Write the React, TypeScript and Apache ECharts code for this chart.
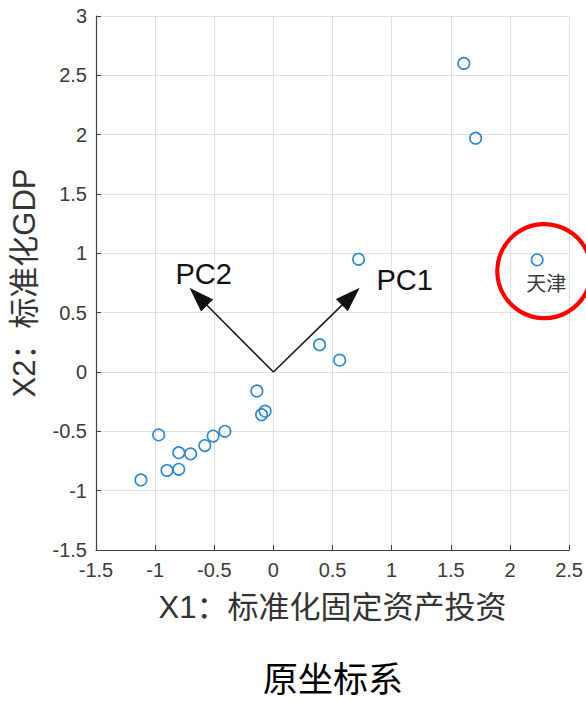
import React, { useEffect, useRef } from "react";
import * as echarts from "echarts";

// Standardized values (X1: fixed-asset investment, X2: GDP)
const provinceX = [-1.12, -0.97, -0.9, -0.8, -0.8, -0.7, -0.58, -0.51, -0.41, -0.14, -0.1, -0.07, 0.39, 0.56, 0.72, 1.61, 1.71];
const provinceY = [-0.91, -0.53, -0.83, -0.82, -0.68, -0.69, -0.62, -0.54, -0.5, -0.16, -0.36, -0.33, 0.23, 0.1, 0.95, 2.6, 1.97];

// Highlighted outlier
const tianjinName = "天津";
const tianjinPoint = [2.23, 0.945];
const highlightCenter = [2.29, 0.85];

// Principal-component arrows
const pcNames = ["PC1", "PC2"];
const pcTipX = [0.73, -0.71];
const pcTipY = [0.71, 0.71];
const pcLabelX = [1.11, -0.59];
const pcLabelY = [0.775, 0.83];

const xTickMin = -1.5;
const xTickMax = 2.5;
const yTickMin = -1.5;
const yTickMax = 3;
const tickStep = 0.5;

const xName = "X1：标准化固定资产投资";
const yName = "X2：标准化GDP";
const titleText = "原坐标系";

const LATIN = "'Liberation Sans', Arial, 'Noto Sans CJK SC', sans-serif";
const CJK = "'Noto Sans CJK SC', 'Liberation Sans', sans-serif";

export default function App() {
  const ref = useRef<HTMLDivElement>(null);

  useEffect(() => {
    if (!ref.current) return;
    const chart = echarts.init(ref.current, undefined, { renderer: "svg" });

    const scatterData = provinceX.map((x, i) => [x, provinceY[i]]);
    const arrowData = pcNames.map((_, i) => [pcTipX[i], pcTipY[i], pcLabelX[i], pcLabelY[i]]);

    const option: any = {
      animation: false,
      backgroundColor: "#ffffff",
      grid: { left: 96, right: 16, top: 16, bottom: 151, containLabel: false },
      xAxis: {
        type: "value",
        min: xTickMin,
        max: xTickMax,
        interval: tickStep,
        name: xName,
        nameLocation: "middle",
        nameGap: 42,
        nameTextStyle: { fontSize: 31, color: "#333", fontFamily: LATIN },
        axisLine: { show: true, onZero: false, lineStyle: { color: "#404040", width: 1.2 } },
        axisTick: { show: true, inside: true, length: 5, lineStyle: { color: "#404040" } },
        axisLabel: { fontSize: 20, color: "#3a3a3a", margin: 10, fontFamily: LATIN, showMinLabel: true, showMaxLabel: true },
        splitLine: { show: true, lineStyle: { color: "#e0e0e0", width: 1 } },
      },
      yAxis: {
        type: "value",
        min: yTickMin,
        max: yTickMax,
        interval: tickStep,
        name: yName,
        nameLocation: "middle",
        nameGap: 56,
        nameTextStyle: { fontSize: 31, color: "#333", fontFamily: LATIN },
        axisLine: { show: true, onZero: false, lineStyle: { color: "#404040", width: 1.2 } },
        axisTick: { show: true, inside: true, length: 5, lineStyle: { color: "#404040" } },
        axisLabel: { fontSize: 20, color: "#3a3a3a", margin: 9, fontFamily: LATIN, showMinLabel: true, showMaxLabel: true },
        splitLine: { show: true, lineStyle: { color: "#e0e0e0", width: 1 } },
      },
      graphic: [
        {
          type: "text",
          x: 333,
          y: 676,
          style: {
            text: titleText,
            fontSize: 35,
            fontFamily: CJK,
            fill: "#000",
            align: "center",
            verticalAlign: "middle",
          },
        },
      ],
      series: [
        {
          type: "scatter",
          name: "provinces",
          symbol: "circle",
          symbolSize: 11.5,
          itemStyle: { color: "rgba(255,255,255,0)", borderColor: "#2f87cc", borderWidth: 1.6, opacity: 1 },
          data: [
            ...scatterData,
            {
              value: tianjinPoint,
              label: {
                show: true,
                formatter: tianjinName,
                position: "bottom",
                distance: 4,
                offset: [9, 2],
                fontSize: 20,
                color: "#3c3c3c",
                fontFamily: CJK,
              },
            },
          ],
          z: 3,
        },
        {
          type: "scatter",
          name: "highlight",
          symbol: "circle",
          symbolSize: 94,
          silent: true,
          itemStyle: { color: "rgba(255,255,255,0)", borderColor: "#ff0000", borderWidth: 4.2, opacity: 1 },
          data: [highlightCenter],
          z: 4,
        },
        {
          type: "custom",
          name: "pcArrows",
          data: arrowData,
          z: 5,
          renderItem: (params: any, api: any) => {
            const o = api.coord([0, 0]);
            const t = api.coord([api.value(0), api.value(1)]);
            const lp = api.coord([api.value(2), api.value(3)]);
            const dx = t[0] - o[0];
            const dy = t[1] - o[1];
            const L = Math.hypot(dx, dy);
            const ux = dx / L;
            const uy = dy / L;
            const hl = 25;
            const hw = 8.5;
            const bx = t[0] - ux * hl;
            const by = t[1] - uy * hl;
            return {
              type: "group",
              children: [
                {
                  type: "line",
                  shape: { x1: o[0], y1: o[1], x2: bx + ux * 2, y2: by + uy * 2 },
                  style: { stroke: "#1a1a1a", lineWidth: 1.6 },
                },
                {
                  type: "polygon",
                  shape: {
                    points: [
                      [t[0], t[1]],
                      [bx - uy * hw, by + ux * hw],
                      [bx + uy * hw, by - ux * hw],
                    ],
                  },
                  style: { fill: "#111" },
                },
                {
                  type: "text",
                  x: lp[0],
                  y: lp[1],
                  style: {
                    text: pcNames[params.dataIndex],
                    fontSize: 29,
                    fontFamily: LATIN,
                    fill: "#111",
                    align: "center",
                    verticalAlign: "middle",
                  },
                },
              ],
            };
          },
        },
      ],
    };

    chart.setOption(option);
    return () => chart.dispose();
  }, []);

  return (
    <div
      ref={ref}
      style={{ position: "fixed", left: 0, top: 0, width: 586, height: 701, background: "#fff" }}
    />
  );
}
